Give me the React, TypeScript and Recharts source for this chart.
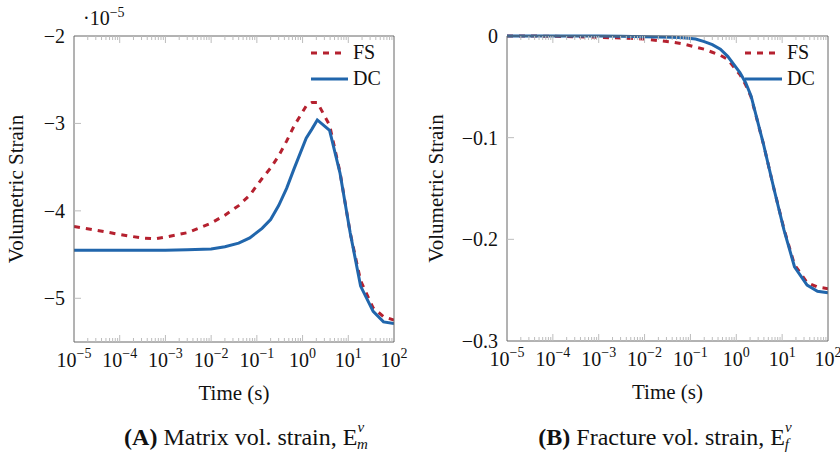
import React from 'react';
import { LineChart, Line, XAxis, YAxis, Legend } from 'recharts';

// time samples (s), shared by both panels
const times = [1e-5, 3e-5, 1e-4, 3e-4, 6e-4, 1e-3, 3e-3, 1e-2, 0.02, 0.04, 0.07, 0.13, 0.2, 0.3, 0.45, 0.65, 1.2, 1.6, 2.1, 3.9, 6.6, 11, 18.6, 35, 59, 100];

// matrix volumetric strain, in units of 1e-5
const matrixFS = [-4.18, -4.22, -4.27, -4.31, -4.32, -4.3, -4.25, -4.14, -4.05, -3.94, -3.82, -3.63, -3.51, -3.37, -3.2, -3.03, -2.8, -2.76, -2.76, -3.02, -3.56, -4.25, -4.8, -5.11, -5.21, -5.25];
const matrixDC = [-4.45, -4.45, -4.45, -4.45, -4.45, -4.45, -4.445, -4.435, -4.41, -4.37, -4.31, -4.2, -4.1, -3.94, -3.74, -3.52, -3.17, -3.065, -2.96, -3.08, -3.57, -4.25, -4.86, -5.15, -5.27, -5.29];

// fracture volumetric strain
const fractureFS = [0, 0, -0.0003, -0.0007, -0.001, -0.0013, -0.002, -0.003, -0.0045, -0.006, -0.0078, -0.011, -0.013, -0.016, -0.019, -0.023, -0.038, -0.048, -0.06, -0.106, -0.15, -0.19, -0.225, -0.2425, -0.247, -0.2485];
const fractureDC = [0, 0, 0, 0, 0, 0, -0.0003, -0.0007, -0.001, -0.0013, -0.0018, -0.003, -0.0055, -0.0085, -0.013, -0.02, -0.036, -0.046, -0.059, -0.106, -0.15, -0.191, -0.227, -0.245, -0.251, -0.2525];

const majorExps = [-5, -4, -3, -2, -1, 0, 1, 2];
const matrixTicks = [-5, -4, -3, -2];
const fractureTicks = [-0.3, -0.2, -0.1, 0];
const seriesOrder = ['FS', 'DC'];

const xTicks: number[] = [];
majorExps.forEach((e) => {
  xTicks.push(Math.pow(10, e));
  if (e < 2) for (let k = 2; k <= 9; k++) xTicks.push(k * Math.pow(10, e));
});

const matrixData = times.map((t, i) => ({ t, FS: matrixFS[i], DC: matrixDC[i] }));
const fractureData = times.map((t, i) => ({ t, FS: fractureFS[i], DC: fractureDC[i] }));

const serif = '"Liberation Serif", "DejaVu Serif", serif';
const TICK = '#bdbdbd';
const FRAME = '#666';
const RED = '#b5212f';
const BLUE = '#2166ac';
const DASH = '6 6';

const isMajor = (v: number) => Math.abs(Math.log10(v) - Math.round(Math.log10(v))) < 1e-6;
const isEdgeX = (v: number) => v < 1.0001e-5 || v > 99.99;

function BottomTick(props: any) {
  const { x, y, payload } = props;
  const v = payload.value;
  const major = isMajor(v);
  const e = Math.round(Math.log10(v));
  return (
    <g>
      {!isEdgeX(v) && <line x1={x} x2={x} y1={y} y2={y - (major ? 7 : 4)} stroke={TICK} />}
      {major && (
        <text x={x} y={y + 25} textAnchor="middle" fontFamily={serif} fontSize={20} fill="#111">
          10
          <tspan dy={-9} fontSize={14}>{e < 0 ? `\u2212${-e}` : `${e}`}</tspan>
        </text>
      )}
    </g>
  );
}

function TopTick(props: any) {
  const { x, y, payload } = props;
  const v = payload.value;
  if (isEdgeX(v)) return <g />;
  return <line x1={x} x2={x} y1={y} y2={y + (isMajor(v) ? 7 : 4)} stroke={TICK} />;
}

const fmt = (v: number) => (v === 0 ? '0' : v < 0 ? `\u2212${Math.abs(v)}` : `${v}`);

function makeLeftTick(lo: number, hi: number) {
  return (props: any) => {
    const { x, y, payload } = props;
    const v = payload.value;
    const edge = v === lo || v === hi;
    return (
      <g>
        {!edge && <line x1={x} x2={x + 7} y1={y} y2={y} stroke={TICK} />}
        <text x={x - 9} y={y} dy="0.35em" textAnchor="end" fontFamily={serif} fontSize={20} fill="#111">
          {fmt(v)}
        </text>
      </g>
    );
  };
}

function makeRightTick(lo: number, hi: number) {
  return (props: any) => {
    const { x, y, payload } = props;
    const v = payload.value;
    if (v === lo || v === hi) return <g />;
    return <line x1={x} x2={x - 7} y1={y} y2={y} stroke={TICK} />;
  };
}

function LegendBox({ payload }: any) {
  const items = [...(payload || [])].sort(
    (a: any, b: any) => seriesOrder.indexOf(a.value) - seriesOrder.indexOf(b.value),
  );
  return (
    <svg width={90} height={52} style={{ overflow: 'visible' }}>
      {items.map((p: any, i: number) => {
        const dashed = p.value === 'FS';
        const ly = 13 + i * 26;
        return (
          <g key={p.value}>
            <line
              x1={3}
              x2={dashed ? 35 : 40}
              y1={ly}
              y2={ly}
              stroke={p.color}
              strokeWidth={3}
              strokeDasharray={dashed ? DASH : undefined}
            />
            <text x={45} y={ly + 6} fontFamily={serif} fontSize={20} fill="#111">
              {p.value}
            </text>
          </g>
        );
      })}
    </svg>
  );
}

interface PanelProps {
  data: { t: number; FS: number; DC: number }[];
  domain: [number, number];
  ticks: number[];
  margin: { top: number; right: number; bottom: number; left: number };
  yWidth: number;
  legendLeft: number;
}

function Panel({ data, domain, ticks, margin, yWidth, legendLeft }: PanelProps) {
  const LeftTick = makeLeftTick(domain[0], domain[1]);
  const RightTick = makeRightTick(domain[0], domain[1]);
  return (
    <LineChart width={420} height={420} data={data} margin={margin}>
      <XAxis
        dataKey="t"
        type="number"
        scale="log"
        domain={[1e-5, 100]}
        allowDataOverflow
        ticks={xTicks}
        interval={0}
        tick={<BottomTick />}
        tickLine={false}
        tickSize={0}
        tickMargin={0}
        height={60}
        axisLine={{ stroke: FRAME }}
        label={{ value: 'Time (s)', position: 'insideBottom', offset: 2, fontFamily: serif, fontSize: 21, fill: '#111' }}
      />
      <XAxis
        xAxisId="top"
        orientation="top"
        dataKey="t"
        type="number"
        scale="log"
        domain={[1e-5, 100]}
        allowDataOverflow
        ticks={xTicks}
        interval={0}
        tick={<TopTick />}
        tickLine={false}
        tickSize={0}
        tickMargin={0}
        height={1}
        axisLine={{ stroke: FRAME }}
      />
      <YAxis
        type="number"
        domain={domain}
        ticks={ticks}
        interval={0}
        tick={LeftTick}
        tickLine={false}
        tickSize={0}
        tickMargin={0}
        width={yWidth}
        axisLine={{ stroke: FRAME }}
        label={{
          value: 'Volumetric Strain',
          angle: -90,
          position: 'insideLeft',
          offset: 4,
          fontFamily: serif,
          fontSize: 21,
          fill: '#111',
          style: { textAnchor: 'middle' },
        }}
      />
      <YAxis
        yAxisId="r"
        orientation="right"
        type="number"
        domain={domain}
        ticks={ticks}
        interval={0}
        tick={RightTick}
        tickLine={false}
        tickSize={0}
        tickMargin={0}
        width={1}
        axisLine={{ stroke: FRAME }}
      />
      <Legend
        layout="vertical"
        align="center"
        verticalAlign="middle"
        width={90}
        height={52}
        wrapperStyle={{ left: legendLeft, top: 40 }}
        content={<LegendBox />}
      />
      <Line
        dataKey="FS"
        name="FS"
        type="linear"
        stroke={RED}
        strokeWidth={3}
        strokeDasharray={DASH}
        dot={false}
        isAnimationActive={false}
      />
      <Line dataKey="DC" name="DC" type="linear" stroke={BLUE} strokeWidth={3} dot={false} isAnimationActive={false} />
    </LineChart>
  );
}

export default function App() {
  return (
    <div style={{ position: 'absolute', left: 0, top: 0, width: 840, height: 454, background: '#fff' }}>
      <div style={{ position: 'absolute', left: 0, top: 0 }}>
        <Panel
          data={matrixData}
          domain={[-5.5, -2]}
          ticks={matrixTicks}
          margin={{ top: 35, right: 25, bottom: 18, left: 12 }}
          yWidth={62}
          legendLeft={308}
        />
      </div>
      <div style={{ position: 'absolute', left: 420, top: 0 }}>
        <Panel
          data={fractureData}
          domain={[-0.3, 0]}
          ticks={fractureTicks}
          margin={{ top: 35, right: 11, bottom: 19, left: 12 }}
          yWidth={75}
          legendLeft={322}
        />
      </div>
      <svg width={840} height={454} style={{ position: 'absolute', left: 0, top: 0, pointerEvents: 'none' }}>
        <text x={83} y={25} fontFamily={serif} fontSize={20} fill="#111">
          ·10
          <tspan dy={-8} fontSize={14}>{'\u22125'}</tspan>
        </text>
        <text x={246} y={445} textAnchor="middle" fontFamily={serif} fontSize={24} fill="#111">
          <tspan fontWeight="bold">(A)</tspan>
          <tspan> Matrix vol. strain, E</tspan>
          <tspan dy={-13} fontSize={15} fontStyle="italic">v</tspan>
          <tspan dx={-7} dy={17} fontSize={15} fontStyle="italic">m</tspan>
        </text>
        <text x={665} y={445} textAnchor="middle" fontFamily={serif} fontSize={24} fill="#111">
          <tspan fontWeight="bold">(B)</tspan>
          <tspan> Fracture vol. strain, E</tspan>
          <tspan dy={-13} fontSize={15} fontStyle="italic">v</tspan>
          <tspan dx={-7} dy={17} fontSize={15} fontStyle="italic">f</tspan>
        </text>
      </svg>
    </div>
  );
}
